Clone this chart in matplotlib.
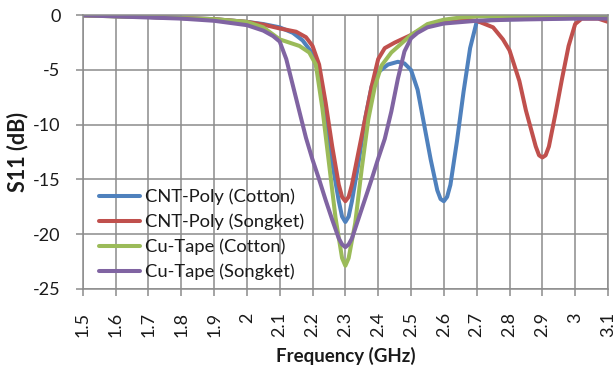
import matplotlib
matplotlib.use("Agg")
import matplotlib.pyplot as plt

plt.rcParams['font.family'] = ['Lato', 'DejaVu Sans']
plt.rcParams['axes.unicode_minus'] = False

# CNT-Poly (Cotton)
f_blue = [1.5, 1.7, 1.9, 2.0, 2.05, 2.1, 2.14, 2.17, 2.2, 2.22, 2.24, 2.26, 2.28, 2.29, 2.3,
          2.31, 2.32, 2.34, 2.36, 2.38, 2.4, 2.43, 2.46, 2.48, 2.5, 2.52, 2.54, 2.56, 2.58, 2.59, 2.6,
          2.61, 2.62, 2.64, 2.66, 2.68, 2.7, 2.75, 2.9, 3.1]
s_blue = [0, -0.15, -0.35, -0.6, -0.8, -1.1, -1.6, -2.3, -3.5, -5.5, -9.5, -13.5, -17.0, -18.4, -18.9,
          -18.4, -17.0, -13.5, -9.5, -6.5, -5.2, -4.5, -4.25, -4.4, -5.0, -6.8, -10.0, -13.2, -16.0, -16.8, -17.0,
          -16.6, -15.5, -11.5, -7.0, -3.0, -0.6, -0.4, -0.3, -0.2]

# CNT-Poly (Songket)
f_red = [1.5, 1.7, 1.9, 2.0, 2.05, 2.1, 2.15, 2.18, 2.2, 2.22, 2.24, 2.26, 2.28, 2.29, 2.3,
         2.31, 2.32, 2.34, 2.36, 2.38, 2.4, 2.42, 2.45, 2.5, 2.55, 2.6, 2.65, 2.7, 2.75, 2.78, 2.8,
         2.83, 2.85, 2.88, 2.89, 2.9, 2.91, 2.92, 2.94, 2.96, 2.98, 3.0, 3.02, 3.07, 3.1]
s_red = [0, -0.15, -0.35, -0.6, -0.85, -1.2, -1.5, -2.0, -2.8, -4.5, -8.0, -12.0, -15.5, -16.6, -17.0,
         -16.6, -15.5, -12.5, -9.5, -6.5, -4.0, -3.0, -2.5, -1.8, -1.0, -0.5, -0.4, -0.5, -1.1, -2.2, -3.2,
         -6.0, -8.7, -12.0, -12.8, -13.0, -12.8, -12.0, -9.0, -5.8, -2.8, -0.8, -0.3, -0.3, -0.6]

# Cu-Tape (Cotton)
f_green = [1.5, 1.6, 1.7, 1.8, 1.9, 2.0, 2.05, 2.1, 2.13, 2.16, 2.19, 2.21, 2.23, 2.25, 2.27,
           2.29, 2.3, 2.31, 2.33, 2.35, 2.37, 2.39, 2.41, 2.44, 2.47, 2.5, 2.55, 2.6, 2.65, 2.7,
           2.8, 3.0, 3.1]
s_green = [0, -0.1, -0.15, -0.25, -0.35, -0.6, -1.1, -2.2, -2.5, -2.8, -3.4, -4.5, -8.5, -13.5, -18.5,
           -22.2, -22.9, -22.2, -19.0, -14.0, -9.5, -6.5, -4.6, -3.4, -2.6, -1.8, -0.8, -0.4, -0.2, -0.1,
           -0.1, -0.15, -0.2]

# Cu-Tape (Songket)
f_purple = [1.5, 1.6, 1.7, 1.8, 1.9, 2.0, 2.05, 2.08, 2.1, 2.12, 2.14, 2.16, 2.18, 2.2, 2.22,
            2.24, 2.26, 2.28, 2.29, 2.3, 2.31, 2.32, 2.34, 2.36, 2.38, 2.4, 2.42, 2.44, 2.46, 2.48, 2.5, 2.52,
            2.55, 2.6, 2.7, 2.8, 2.9, 3.0, 3.1]
s_purple = [0, -0.1, -0.2, -0.3, -0.5, -0.9, -1.4, -1.9, -2.4, -4.0, -6.4, -8.8, -11.2, -13.2, -15.0,
            -16.9, -18.7, -20.4, -20.95, -21.2, -20.95, -20.4, -18.6, -16.8, -15.0, -13.1, -11.3, -8.8, -5.8, -3.3, -2.1, -1.6,
            -1.1, -0.75, -0.5, -0.4, -0.35, -0.3, -0.3]

labels = ["CNT-Poly (Cotton)", "CNT-Poly (Songket)", "Cu-Tape (Cotton)", "Cu-Tape (Songket)"]
colors = ["#4F81BD", "#C0504D", "#9BBB59", "#8064A2"]
x_ticks = [1.5, 1.6, 1.7, 1.8, 1.9, 2.0, 2.1, 2.2, 2.3, 2.4, 2.5, 2.6, 2.7, 2.8, 2.9, 3.0, 3.1]
x_tick_labels = ["1.5", "1.6", "1.7", "1.8", "1.9", "2", "2.1", "2.2", "2.3", "2.4", "2.5",
                 "2.6", "2.7", "2.8", "2.9", "3", "3.1"]
y_ticks = [0, -5, -10, -15, -20, -25]

fig = plt.figure(figsize=(6.16, 3.69), dpi=100)
ax = fig.add_axes([0.1343, 0.2176, 0.8527, 0.7409])

series = [(f_blue, s_blue), (f_red, s_red), (f_green, s_green), (f_purple, s_purple)]
for (f, s), lab, c in zip(series, labels, colors):
    ax.plot(f, s, color=c, lw=2.9, label=lab, solid_capstyle='round', solid_joinstyle='round')

ax.set_xlim(1.5, 3.1)
ax.set_ylim(-25, 0)
ax.set_xticks(x_ticks)
ax.set_xticklabels(x_tick_labels, rotation=90)
ax.set_yticks(y_ticks)
ax.grid(True, color='#8c8c8c', lw=1.1)
ax.set_axisbelow(True)
for sp in ax.spines.values():
    sp.set_color('#8c8c8c')
    sp.set_linewidth(1.1)
ax.tick_params(axis='both', colors='#8c8c8c', labelcolor='#1a1a1a', labelsize=13, length=5, width=1.1)
ax.tick_params(axis='y', pad=11)
ax.tick_params(axis='x', pad=12)

ax.set_xlabel("Frequency (GHz)", fontsize=13.5, fontweight='bold', color='#1a1a1a', labelpad=7)
ax.set_ylabel("S11 (dB)", fontsize=15.5, fontweight='bold', color='#1a1a1a', labelpad=3)

leg = ax.legend(loc='upper left', bbox_to_anchor=(0.031, 0.367), frameon=False, fontsize=13.2,
                handlelength=2.24, handletextpad=0.27, labelspacing=0.47, borderpad=0,
                borderaxespad=0)
for t in leg.get_texts():
    t.set_color('#1a1a1a')

fig.savefig("out.png", dpi=100)
